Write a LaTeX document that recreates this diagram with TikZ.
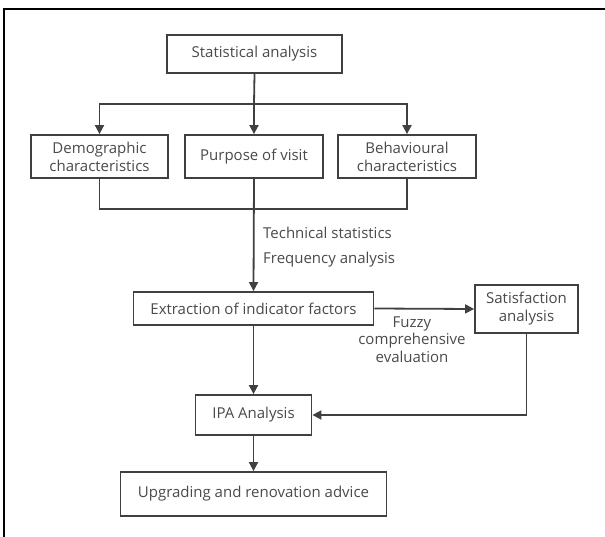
\documentclass[tikz,border=0pt]{standalone}
\usepackage{fontspec}
\setmainfont{Open Sans}
\usetikzlibrary{arrows.meta}
\definecolor{ln}{HTML}{404040}
\definecolor{tx}{HTML}{4A4A4A}
\tikzset{
  box/.style={draw=ln, line width=1.8pt, fill=white, text=tx, inner sep=0pt, align=center, font=\fontsize{15}{18}\selectfont},
  conn/.style={draw=ln, line width=1.8pt},
  arr/.style={conn, -{Triangle[length=9pt,width=9pt]}},
  lbl/.style={text=tx, inner sep=0pt, align=center, font=\fontsize{15}{17.5}\selectfont}
}
\begin{document}
\begin{tikzpicture}[x=1pt,y=-1pt]
\useasboundingbox (0,0) rectangle (605,537);
\draw[line width=2pt, black] (4,537) -- (4,9) -- (605,9);
\node[box, minimum width=175pt, minimum height=38pt] (stat) at (254.5,54) {Statistical analysis};
\node[box, minimum width=137pt, minimum height=43pt] (demo) at (99.5,156.5) {Demographic\\characteristics};
\node[box, minimum width=138pt, minimum height=43pt] (purp) at (254,156.5) {Purpose of visit};
\node[box, minimum width=138pt, minimum height=43pt] (beh) at (407,156.5) {Behavioural\\characteristics};
\node[box, minimum width=240pt, minimum height=33pt] (extr) at (253.5,308.5) {Extraction of indicator factors};
\node[box, minimum width=103pt, minimum height=48pt] (sat) at (526.5,309) {Satisfaction\\analysis};
\node[box, minimum width=116pt, minimum height=40pt] (ipa) at (253.5,415) {IPA Analysis};
\node[box, minimum width=266pt, minimum height=44pt] (upg) at (253.5,494) {Upgrading and renovation advice};
\coordinate (j1) at (254,104);
\coordinate (j2) at (254,209);
\draw[conn] (stat.south) -- (j1);
\draw[arr] (j1) -- (purp.north);
\draw[arr] (j1) -| (demo.north);
\draw[arr] (j1) -| (beh.north);
\draw[conn] (demo.south) |- (j2);
\draw[conn] (beh.south) |- (j2);
\draw[arr] (purp.south) -- (extr.north);
\draw[arr] (extr.east) -- (sat.west);
\draw[arr] (extr.south) -- (ipa.north);
\draw[arr] (sat.south) |- (ipa.east);
\draw[arr] (ipa.south) -- (upg.north);
\node[lbl, anchor=west] (t1) at (263,233) {Technical statistics};
\node[lbl, anchor=west] (t2) at (263,260) {Frequency analysis};
\node[lbl] (fz) at (412,339.5) {Fuzzy\\comprehensive\\evaluation};
\end{tikzpicture}
\end{document}
